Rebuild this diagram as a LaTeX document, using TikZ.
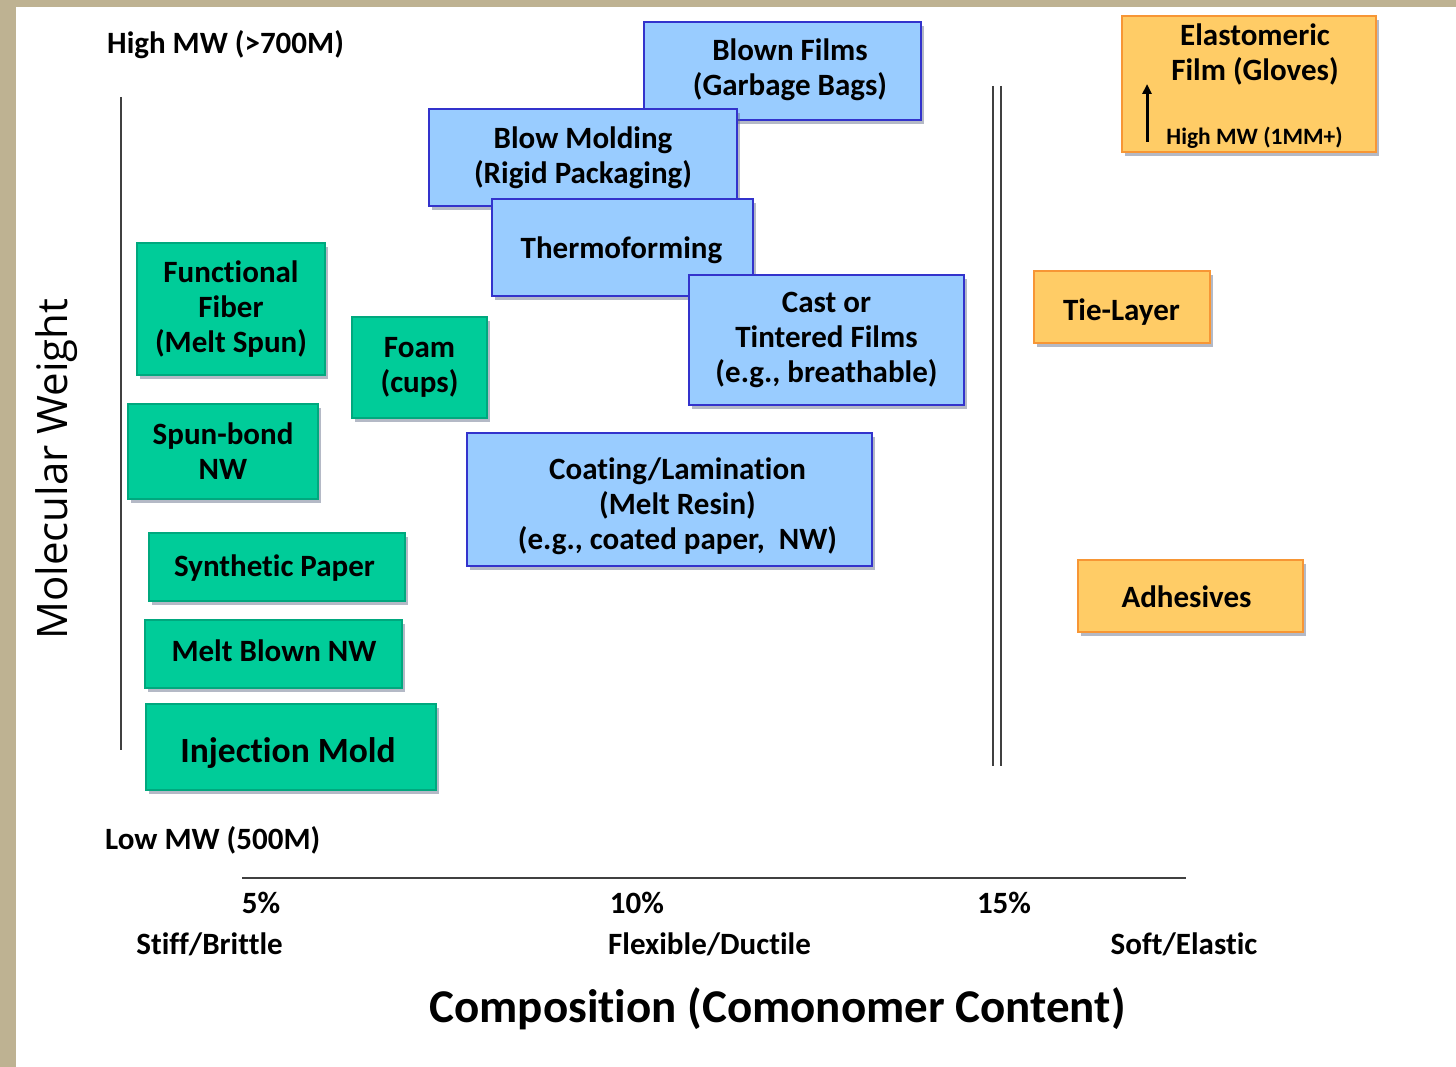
\documentclass[tikz,border=0pt]{standalone}
\usepackage{fontspec}
\setmainfont{Carlito}[Ligatures={NoCommon}]
\newfontfamily\opensans{Open Sans}
\usetikzlibrary{shadows,arrows.meta}
\definecolor{bluefill}{RGB}{153,204,255}
\definecolor{blueline}{RGB}{51,51,204}
\definecolor{greenfill}{RGB}{0,204,153}
\definecolor{greenline}{RGB}{0,168,126}
\definecolor{orangefill}{RGB}{255,204,102}
\definecolor{orangeline}{RGB}{247,150,53}
\definecolor{tanframe}{RGB}{190,178,146}
\definecolor{shadowcol}{RGB}{90,100,130}
\tikzset{
  box/.style={rectangle, inner sep=0pt, line width=1.3pt, align=center,
    font=\fontsize{31}{35}\selectfont\bfseries,
    drop shadow={shadow xshift=3pt, shadow yshift=-4pt, fill=shadowcol, opacity=0.45}},
  bluebox/.style={box, fill=bluefill, draw=blueline},
  greenbox/.style={box, fill=greenfill, draw=greenline},
  orangebox/.style={box, fill=orangefill, draw=orangeline},
  boxtxt/.style={inner sep=0pt, align=center, font=\fontsize{31}{35}\selectfont\bfseries},
  lbl/.style={inner sep=0pt, font=\fontsize{31}{35}\selectfont\bfseries},
  axisline/.style={line width=1.3pt, draw=black!75},
}
\begin{document}
\begin{tikzpicture}[x=1pt,y=-1pt]
\useasboundingbox (0,0) rectangle (1456,1067);
\fill[tanframe] (0,0) rectangle (1456,1067);
\fill[white] (16,7) rectangle (1456,1067);
% axis lines
\coordinate (vl1) at (121,97); \coordinate (vl2) at (121,750);
\draw[axisline] (vl1) -- (vl2);
\coordinate (d1a) at (993,86); \coordinate (d1b) at (993,766);
\coordinate (d2a) at (1001,86); \coordinate (d2b) at (1001,766);
\draw[axisline] (d1a) -- (d1b);
\draw[axisline] (d2a) -- (d2b);
\coordinate (h1) at (242,878); \coordinate (h2) at (1186,878);
\draw[axisline] (h1) -- (h2);
% blue boxes
\node[bluebox, minimum width=277pt, minimum height=98pt] (blown) at (782.5,71) {};
\node[boxtxt] (blowntxt) at (790,70) {Blown Films\\(Garbage Bags)};
\node[bluebox, minimum width=308pt, minimum height=97pt] (blowm) at (583,157.5) {Blow Molding\\(Rigid Packaging)};
\node[bluebox, minimum width=261pt, minimum height=97pt] (thermo) at (622.5,247.5) {};
\node[boxtxt] (thermotxt) at (621.5,250) {Thermoforming};
\node[bluebox, minimum width=275pt, minimum height=130pt] (cast) at (826.5,340) {Cast or\\Tintered Films\\(e.g., breathable)};
\node[bluebox, minimum width=405pt, minimum height=133pt] (coat) at (669.5,499.5) {};
\node[boxtxt] (coattxt) at (677.5,506) {Coating/Lamination\\(Melt Resin)\\(e.g., coated paper,\ \ NW)};
% green boxes
\node[greenbox, minimum width=188pt, minimum height=132pt] (func) at (231,309) {Functional\\Fiber\\(Melt Spun)};
\node[greenbox, minimum width=135pt, minimum height=101pt] (foam) at (419.5,367.5) {Foam\\(cups)};
\node[greenbox, minimum width=190pt, minimum height=95pt] (spun) at (223,451.5) {Spun-bond\\NW};
\node[greenbox, minimum width=256pt, minimum height=68pt] (synth) at (277,567) {};
\node[boxtxt] (synthtxt) at (274.5,568) {Synthetic Paper};
\node[greenbox, minimum width=257pt, minimum height=68pt] (melt) at (273.5,654) {};
\node[boxtxt] (melttxt) at (274,651) {Melt Blown NW};
\node[greenbox, minimum width=290pt, minimum height=86pt] (inj) at (291,747) {};
\node[boxtxt, font=\fontsize{35.5}{40}\selectfont\bfseries] (injtxt) at (288,753) {Injection Mold};
% orange boxes
\node[orangebox, minimum width=254pt, minimum height=136pt] (elast) at (1249,84) {};
\node[boxtxt] (elasttxt) at (1255,54) {Elastomeric\\Film (Gloves)};
\node[lbl, font=\fontsize{23.5}{28}\selectfont\bfseries] (elasthm) at (1254.5,138) {High MW (1MM+)};
\coordinate (arrA) at (1147,142); \coordinate (arrB) at (1147,84);
\draw[line width=3pt, -{Triangle[length=10pt,width=9pt]}] (arrA) -- (arrB);
\node[orangebox, minimum width=176pt, minimum height=72pt] (tie) at (1122,307) {};
\node[boxtxt] (tietxt) at (1121.5,312) {Tie-Layer};
\node[orangebox, minimum width=225pt, minimum height=72pt] (adh) at (1190.5,596) {};
\node[boxtxt] (adhtxt) at (1186.5,597) {Adhesives};
% axis labels
\node[lbl, anchor=west] (highmw) at (107,45) {High MW (>700M)};
\node[lbl, anchor=west] (lowmw) at (105,840) {Low MW (500M)};
\node[lbl] (p5) at (261,903) {5\%};
\node[lbl] (p10) at (637,903) {10\%};
\node[lbl] (p15) at (1004,903) {15\%};
\node[lbl] (stiff) at (209.5,944) {Stiff/Brittle};
\node[lbl] (flex) at (709.5,944) {Flexible/Ductile};
\node[lbl] (soft) at (1184,944) {Soft/Elastic};
\node[lbl, font=\fontsize{47}{54}\selectfont\bfseries] (comp) at (777.5,1009) {Composition (Comonomer Content)};
\node[inner sep=0pt, rotate=90, font=\opensans\fontsize{42}{48}\selectfont] (mw) at (57,469) {Molecular Weight};
\end{tikzpicture}
\end{document}
